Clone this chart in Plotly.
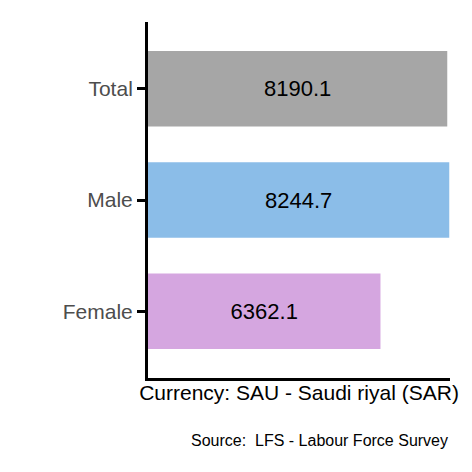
import plotly.graph_objects as go

categories = ["Female", "Male", "Total"]
values = [6362.1, 8244.7, 8190.1]
colors = ["#D5A6E0", "#8BBDE8", "#A6A6A6"]

fig = go.Figure(go.Bar(
    y=categories, x=values, orientation="h", width=0.68,
    marker=dict(color=colors, line=dict(width=0)),
    text=[f"{v:.1f}" for v in values], textposition="inside",
    insidetextanchor="middle",
    textfont=dict(family="Liberation Sans, Arial", size=22, color="black"),
))
fig.update_layout(
    width=472, height=472, plot_bgcolor="white", paper_bgcolor="white",
    margin=dict(l=140, r=30, t=14, b=102), showlegend=False,
    font=dict(family="Liberation Sans, Arial"),
    xaxis=dict(range=[0, 8265], showgrid=False, zeroline=False, showticklabels=False,
               showline=True, linecolor="black", linewidth=3, ticks="",
               title=dict(text="Currency: SAU - Saudi riyal (SAR)", standoff=6,
                          font=dict(size=21, color="black"))),
    yaxis=dict(range=[-0.6, 2.6], showgrid=False, zeroline=False,
               showline=True, linecolor="black", linewidth=3,
               ticks="outside", ticklen=8, tickwidth=3, tickcolor="black",
               tickfont=dict(size=21, color="#4D4D4D")),
    annotations=[dict(text="Source:  LFS - Labour Force Survey", xref="paper", yref="paper",
                      x=1, y=-0.175, xanchor="right", yanchor="middle", showarrow=False,
                      font=dict(size=16, color="black"))],
)
fig.write_html("out.html")
